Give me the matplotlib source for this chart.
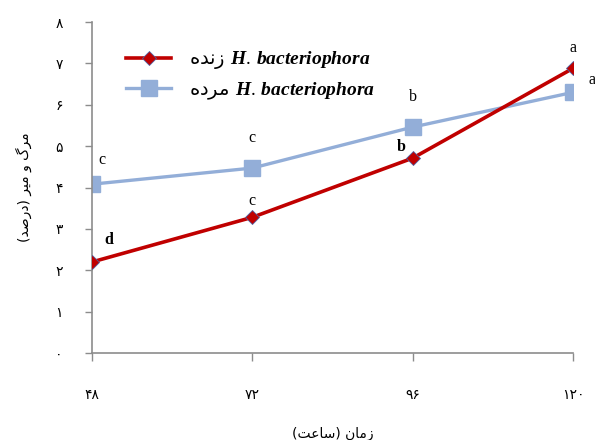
#!/usr/bin/env python3
"""
Mortality (%) of live vs dead H. bacteriophora over time, Persian labels.
"""
import matplotlib
matplotlib.use("Agg")
import matplotlib.pyplot as plt

hours = [48, 72, 96, 120]
hour_labels = ["۴۸", "۷۲", "۹۶", "۱۲۰"]
y_ticks = [0, 1, 2, 3, 4, 5, 6, 7, 8]
y_tick_labels = ["۰", "۱", "۲", "۳", "۴", "۵", "۶", "۷", "۸"]

live = [2.20, 3.28, 4.71, 6.88]
dead = [4.08, 4.47, 5.46, 6.30]
live_groups = ["d", "c", "b", "a"]
dead_groups = ["c", "c", "b", "a"]

live_name = "زنده"
dead_name = "مرده"
x_title = "زمان (ساعت)"
y_title = "مرگ و میر (درصد)"

# presentation forms: (isolated, final, initial, medial); right-joining letters have 2
FORMS = {
    "ا": ("\uFE8D", "\uFE8E"),
    "د": ("\uFEA9", "\uFEAA"),
    "ر": ("\uFEAD", "\uFEAE"),
    "ز": ("\uFEAF", "\uFEB0"),
    "و": ("\uFEED", "\uFEEE"),
    "م": ("\uFEE1", "\uFEE2", "\uFEE3", "\uFEE4"),
    "ن": ("\uFEE5", "\uFEE6", "\uFEE7", "\uFEE8"),
    "س": ("\uFEB1", "\uFEB2", "\uFEB3", "\uFEB4"),
    "ص": ("\uFEB9", "\uFEBA", "\uFEBB", "\uFEBC"),
    "ع": ("\uFEC9", "\uFECA", "\uFECB", "\uFECC"),
    "ت": ("\uFE95", "\uFE96", "\uFE97", "\uFE98"),
    "ه": ("\uFEE9", "\uFEEA", "\uFEEB", "\uFEEC"),
    "ی": ("\uFBFC", "\uFBFD", "\uFBFE", "\uFBFF"),
    "گ": ("\uFB92", "\uFB93", "\uFB94", "\uFB95"),
}
MIRROR = {"(": ")", ")": "("}


def shape_rtl(text):
    # matplotlib does no Arabic shaping or bidi, so do it by hand
    out = []
    for i, ch in enumerate(text):
        forms = FORMS.get(ch)
        if forms is None:
            out.append(MIRROR.get(ch, ch))
            continue
        prev = text[i - 1] if i > 0 else ""
        nxt = text[i + 1] if i + 1 < len(text) else ""
        joins_prev = prev in FORMS and len(FORMS[prev]) == 4
        joins_next = len(forms) == 4 and nxt in FORMS
        if joins_prev and joins_next:
            out.append(forms[3])
        elif joins_prev:
            out.append(forms[1])
        elif joins_next:
            out.append(forms[2])
        else:
            out.append(forms[0])
    return "".join(reversed(out))


plt.rcParams["mathtext.fontset"] = "custom"
plt.rcParams["mathtext.it"] = "Liberation Serif:italic:bold"
plt.rcParams["mathtext.rm"] = "Liberation Serif"

RED = "#C00000"
BLUE = "#93AED8"
GREY = "#8C8C8C"

fig = plt.figure(figsize=(5.95, 4.4), dpi=100)
ax = fig.add_axes([0.1546, 0.1977, 0.8084, 0.7523])

species = r"$\mathit{H.}\,\mathit{bacteriophora}$"
ax.plot(hours, live, color=RED, lw=2.6, marker="D", ms=7.5,
        mfc=RED, mec="#5060A0", mew=0.6,
        label=shape_rtl(live_name) + " " + species, zorder=3)
ax.plot(hours, dead, color=BLUE, lw=2.4, marker="s", ms=12,
        mfc=BLUE, mec=BLUE, label=shape_rtl(dead_name) + " " + species,
        zorder=2)

# significance letters
live_offsets = [(12, 10), (0, 6), (-8, 2), (0, 9)]
live_bold = [True, False, True, False]
for x, y, g, off, bold in zip(hours, live, live_groups, live_offsets, live_bold):
    ax.annotate(g, (x, y), xytext=off, textcoords="offset points",
                ha="center", va="bottom", fontsize=11.5, family="Liberation Serif",
                fontweight="bold" if bold else "normal", annotation_clip=False)
dead_offsets = [(7, 12), (0, 16), (0, 16), (14, 3)]
for x, y, g, off in zip(hours, dead, dead_groups, dead_offsets):
    ax.annotate(g, (x, y), xytext=off, textcoords="offset points",
                ha="center", va="bottom", fontsize=11.5, family="Liberation Serif",
                annotation_clip=False)

ax.set_xlim(48, 120)
ax.set_ylim(0, 8)
ax.set_xticks(hours)
ax.set_xticklabels(hour_labels, fontsize=10, family="DejaVu Sans")
ax.set_yticks(y_ticks)
ax.set_yticklabels(y_tick_labels, fontsize=10, family="DejaVu Sans")
ax.tick_params(axis="x", direction="out", length=6, pad=19, color=GREY, width=1)
ax.tick_params(axis="y", direction="out", length=5, pad=16, color=GREY, width=1)

for side in ("top", "right"):
    ax.spines[side].set_visible(False)
for side in ("left", "bottom"):
    ax.spines[side].set_color(GREY)
    ax.spines[side].set_linewidth(1.2)

ax.set_xlabel(shape_rtl(x_title), fontsize=10, labelpad=18)
ax.set_ylabel(shape_rtl(y_title), fontsize=10, labelpad=17)

ax.legend(loc="upper left", bbox_to_anchor=(0.035, 0.97), frameon=False,
          fontsize=14, handlelength=2.3, handletextpad=0.9, labelspacing=0.45)

fig.savefig("out.png", dpi=100)
plt.close(fig)
